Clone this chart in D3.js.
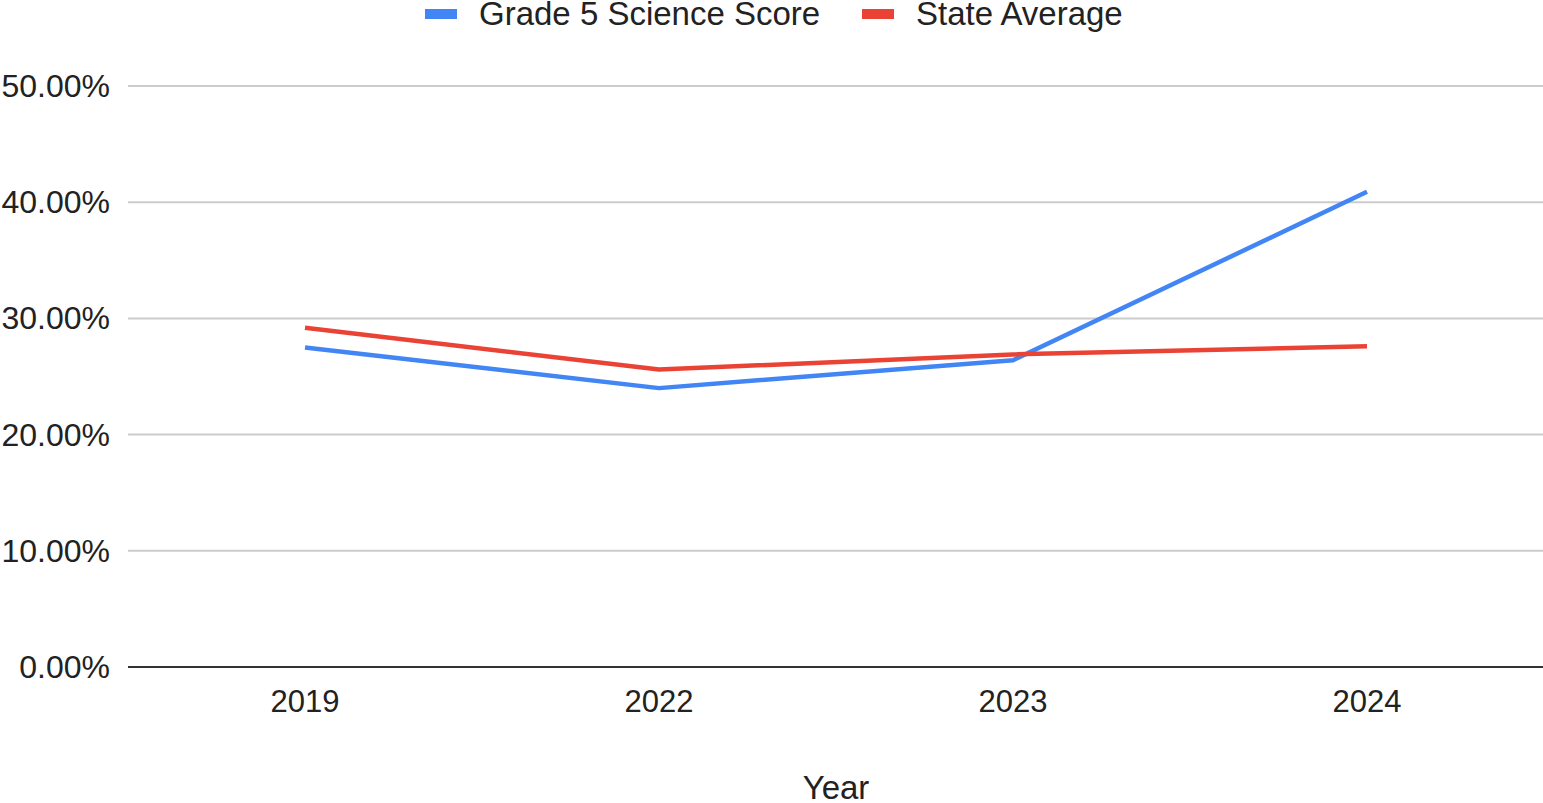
<!DOCTYPE html>
<html><head><meta charset="utf-8">
<script src="https://cdn.jsdelivr.net/npm/d3@7"></script>
<style>html,body{margin:0;padding:0;background:#fff;}svg{display:block;font-family:"Liberation Sans",Arial,sans-serif;}</style>
</head><body>
<script>
const years = ["2019","2022","2023","2024"];
const gradeScore = [27.5, 24.0, 26.4, 40.9];
const stateAvg = [29.2, 25.6, 26.9, 27.6];
const yTicks = [0,10,20,30,40,50];
const seriesNames = ["Grade 5 Science Score","State Average"];
const colors = ["#4285F4","#EA4335"];

const W=1543,H=803;
const svg=d3.select("body").append("svg").attr("width",W).attr("height",H);
const x=d3.scalePoint().domain(years).range([128,1544]).padding(0.5);
const y=d3.scaleLinear().domain([0,50]).range([667,86]);

svg.append("g").selectAll("line").data(yTicks.filter(d=>d>0)).join("line")
 .attr("x1",128).attr("x2",1543).attr("y1",d=>y(d)).attr("y2",d=>y(d))
 .attr("stroke","#cccccc").attr("stroke-width",2);
svg.append("line").attr("x1",128).attr("x2",1543).attr("y1",y(0)).attr("y2",y(0))
 .attr("stroke","#333").attr("stroke-width",2);

svg.append("g").selectAll("text").data(yTicks).join("text")
 .attr("x",110).attr("y",d=>y(d)+11).attr("text-anchor","end")
 .attr("font-size",32).attr("fill","#222").text(d=>d.toFixed(2)+"%");

svg.append("g").selectAll("text").data(years).join("text")
 .attr("x",d=>x(d)).attr("y",712).attr("text-anchor","middle")
 .attr("font-size",31).attr("fill","#222").text(d=>d);

svg.append("text").attr("x",836).attr("y",799).attr("text-anchor","middle")
 .attr("font-size",33).attr("fill","#222").text("Year");

const line=d3.line().x((d,i)=>x(years[i])).y(d=>y(d));
[gradeScore,stateAvg].forEach((s,k)=>{
  svg.append("path").datum(s).attr("d",line).attr("fill","none")
   .attr("stroke",colors[k]).attr("stroke-width",4.5).attr("stroke-linejoin","round");
});

const leg=[{x:425,tx:479},{x:862,tx:916}];
seriesNames.forEach((n,k)=>{
  svg.append("rect").attr("x",leg[k].x).attr("y",9).attr("width",32).attr("height",10).attr("fill",colors[k]);
  svg.append("text").attr("x",leg[k].tx).attr("y",25).attr("font-size",33).attr("fill","#222").text(n);
});
</script>
</body></html>
